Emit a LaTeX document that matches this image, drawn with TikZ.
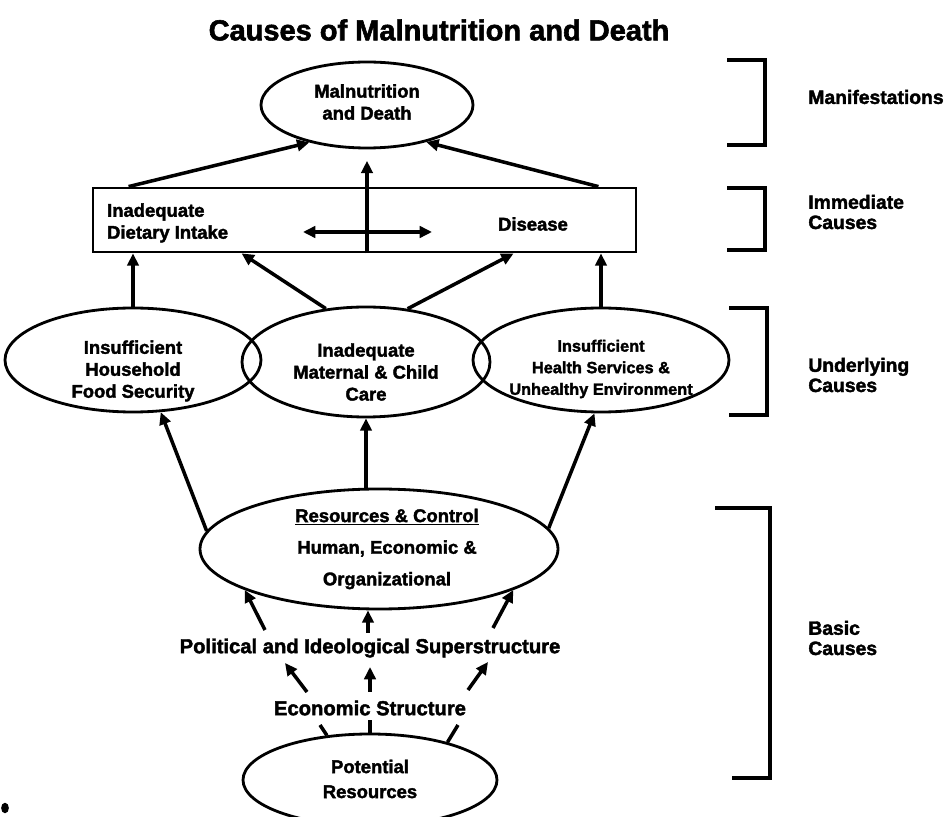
\documentclass[tikz,border=0pt]{standalone}
\usepackage{fontspec}
\setmainfont{Liberation Sans}[BoldFeatures={FakeBold=2}]
\usetikzlibrary{shapes.geometric,arrows.meta,calc}
\def\pxu{0.02cm}
\tikzset{
  ell/.style={draw, ellipse, line width=1.6pt, inner sep=0pt},
  txt/.style={font=\bfseries\fontsize{10.5}{12.5}\selectfont, align=center, inner sep=1pt},
  bigtxt/.style={font=\bfseries\fontsize{11.5}{13}\selectfont, inner sep=1pt},
  arr/.style={line width=2pt, -{Triangle[length=7pt,width=6.5pt]}},
  dbl/.style={line width=2pt, {Triangle[length=7pt,width=6.5pt]}-{Triangle[length=7pt,width=6.5pt]}},
  ln/.style={line width=2pt},
  brk/.style={line width=2pt},
  side/.style={font=\bfseries\fontsize{11}{11.5}\selectfont, align=left, anchor=west, inner sep=0pt},
}
\begin{document}
\begin{tikzpicture}[x=0.02cm,y=-0.02cm]
\useasboundingbox (0,0) rectangle (951,817);

% title
\node[font=\bfseries\fontsize{16.5}{20}\selectfont] (title) at (439,30) {Causes of Malnutrition and Death};

% manifestations
\node[ell, minimum width=212*\pxu, minimum height=86*\pxu] (mal) at (367,105) {};
\node[txt] (maltxt) at (367,102) {Malnutrition\\and Death};

% immediate causes box
\node[draw, line width=1.6pt, minimum width=543*\pxu, minimum height=64*\pxu, inner sep=0pt] (rect) at (364.5,220) {};
\node[txt, align=left, anchor=west] (diet) at (105,223) {Inadequate\\Dietary Intake};
\node[txt] (dis) at (533,224) {Disease};
\coordinate (dl) at (303,232);
\coordinate (dr) at (432,232);
\draw[dbl] (dl) -- (dr);
\draw[arr, shorten >=6.5pt] (rect.south -| mal.south) -- (mal.south);
\draw[arr] ($(rect.north west)+(37,0)$) -- (mal.213);
\draw[arr] ($(rect.north east)+(-39,0)$) -- (mal.328);

% underlying causes
\node[ell, minimum width=256*\pxu, minimum height=104*\pxu] (L) at (133,360) {};
\node[ell, minimum width=248*\pxu, minimum height=110*\pxu] (M) at (366,362) {};
\node[ell, minimum width=256*\pxu, minimum height=104*\pxu] (R) at (601,360) {};
\node[txt] (Lt) at (133,371) {Insufficient\\Household\\Food Security};
\node[txt] (Mt) at (366,372) {Inadequate\\Maternal \& Child\\Care};
\node[txt, font=\bfseries\fontsize{9.3}{12.3}\selectfont] (Rt) at (601,369) {Insufficient\\Health Services \&\\Unhealthy Environment};
\draw[arr] (L.north) -- (L.north |- rect.south);
\draw[arr] (M.127) -- ($(rect.south west)+(150,0)$);
\draw[arr] (M.52) -- ($(rect.south west)+(422,0)$);
\draw[arr] (R.north) -- (R.north |- rect.south);

% resources
\node[ell, minimum width=358*\pxu, minimum height=120*\pxu] (Res) at (379,549) {};
\node[font=\bfseries\fontsize{10.5}{18}\selectfont, align=center, inner sep=1pt] (Rest) at (387,549) {\underline{Resources \& Control}\\Human, Economic \&\\Organizational};
\draw[arr] (Res.174) -- (L.298);
\draw[arr] (Res.7) -- (R.263);
\draw[arr] (M.south |- Res.north) -- (M.south);

% political / economic
\node[bigtxt] (pol) at (370,648) {Political and Ideological Superstructure};
\node[bigtxt] (eco) at (370,708) {Economic Structure};
\draw[arr] ($(pol.center)+(-105,-18)$) -- (Res.197);
\draw[arr] ($(pol.center)+(123,-20)$) -- (Res.343);
\draw[arr] ($(pol.center)+(-2,-15)$) -- (Res.south -| 368,0);
\draw[arr] ($(eco.center)+(-63,-16)$) -- ($(pol.center)+(-85,15)$);
\draw[arr] ($(eco.center)+(0,-16)$) -- ($(pol.center)+(0,19)$);
\draw[arr] ($(eco.center)+(98,-18)$) -- ($(pol.center)+(118,14)$);

% potential resources
\node[ell, minimum width=254*\pxu, minimum height=92*\pxu] (pot) at (370,780) {};
\node[txt, font=\bfseries\fontsize{10.5}{14.2}\selectfont] (pott) at (370,779) {Potential\\Resources};
\draw[ln] (pot.134) -- ($(eco.center)+(-50,17)$);
\draw[ln] (pot.north) -- ($(eco.center)+(0,12)$);
\draw[ln] (pot.26) -- ($(eco.center)+(88,17)$);

% brackets
\draw[brk] (727,60) -- (765,60) -- (765,145) -- (727,145);
\draw[brk] (727,188) -- (765,188) -- (765,250) -- (727,250);
\draw[brk] (729,308) -- (767,308) -- (767,415) -- (729,415);
\draw[brk] (715,508) -- (770,508) -- (770,778) -- (732,778);

% side labels
\node[side] (man) at (808,97) {Manifestations};
\node[side] (imm) at (808,212) {Immediate\\Causes};
\node[side] (und) at (808,375) {Underlying\\Causes};
\node[side] (bas) at (808,638) {Basic\\Causes};

% scan fragment at lower left
\fill (5,808) ellipse [x radius=2.2pt, y radius=3pt];
\end{tikzpicture}
\end{document}
